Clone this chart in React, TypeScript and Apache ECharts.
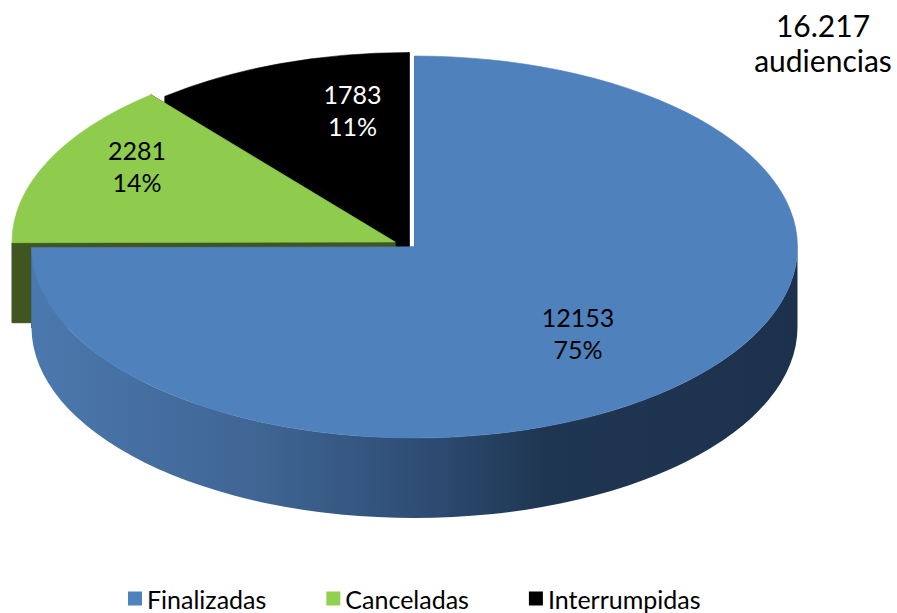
import React, { useEffect, useRef } from "react";
import * as echarts from "echarts";

const categories = ["Finalizadas", "Canceladas", "Interrumpidas"];
const values = [12153, 2281, 1783];
const totalLabel = "16.217\naudiencias";

const topColors = ["#4f81bd", "#8fcc4e", "#000000"];
const legendColors = ["#4f81bd", "#92d050", "#000000"];
const cutColors = ["#3a6090", "#3f5620", "#000000"];
const labelColors = ["#000000", "#000000", "#ffffff"];
const centers = [[414.5, 247], [395, 242], [409, 243.5]];
const labelPos = [[578, 333], [137, 166], [352.5, 110]];
const layers = [3, 2, 1];

const RX = 383;
const RY = 191;
const DEPTH = 80;
const FONT = "Lato, sans-serif";

const total = values.reduce((a, b) => a + b, 0);
const startOf = (i: number) =>
  (values.slice(0, i).reduce((a, b) => a + b, 0) / total) * Math.PI * 2;

const pt = (c: number[], a: number, dy = 0) => [
  c[0] + RX * Math.sin(a),
  c[1] - RY * Math.cos(a) + dy,
];

function renderSlice(i: number) {
  return () => {
    const c = centers[i];
    const a0 = startOf(i);
    const a1 = a0 + (values[i] / total) * Math.PI * 2;
    const p0 = pt(c, a0);
    const p1 = pt(c, a1);
    const large = a1 - a0 > Math.PI ? 1 : 0;
    const children: any[] = [];
    const quad = (a: number) => {
      const e = pt(c, a);
      const d = `M${c[0]} ${c[1]}L${e[0]} ${e[1]}L${e[0]} ${e[1] + DEPTH}L${c[0]} ${c[1] + DEPTH}Z`;
      children.push({
        type: "path",
        shape: { pathData: d },
        style: { fill: cutColors[i], stroke: cutColors[i], lineWidth: 1 },
      });
    };
    quad(a0);
    quad(a1);
    const w0 = Math.max(a0, Math.PI / 2);
    const w1 = Math.min(a1, (Math.PI * 3) / 2);
    if (w1 > w0) {
      const s = pt(c, w0);
      const e = pt(c, w1);
      const d =
        `M${s[0]} ${s[1]}A${RX} ${RY} 0 0 1 ${e[0]} ${e[1]}` +
        `L${e[0]} ${e[1] + DEPTH}A${RX} ${RY} 0 0 0 ${s[0]} ${s[1] + DEPTH}Z`;
      children.push({
        type: "path",
        shape: { pathData: d },
        style: {
          fill: new echarts.graphic.LinearGradient(0, 0, 1, 0, [
            { offset: 0, color: "#4b78ae" },
            { offset: 0.3, color: "#3f6593" },
            { offset: 0.5, color: "#2f4e76" },
            { offset: 0.67, color: "#1f3652" },
            { offset: 1, color: "#1c314c" },
          ]),
        },
      });
    }
    children.push({
      type: "path",
      shape: {
        pathData: `M${c[0]} ${c[1]}L${p0[0]} ${p0[1]}A${RX} ${RY} 0 ${large} 1 ${p1[0]} ${p1[1]}Z`,
      },
      style: { fill: topColors[i], stroke: topColors[i], lineWidth: 0.6 },
    });
    children.push({
      type: "text",
      style: {
        text: `${values[i]}\n${Math.round((values[i] / total) * 100)}%`,
        x: labelPos[i][0],
        y: labelPos[i][1],
        fill: labelColors[i],
        fontFamily: FONT,
        fontSize: 25,
        lineHeight: 32,
        align: "center",
        verticalAlign: "middle",
      },
    });
    return { type: "group", children };
  };
}

export default function App() {
  const ref = useRef<HTMLDivElement>(null);
  useEffect(() => {
    document.body.style.margin = "0";
    const chart = echarts.init(ref.current!, null, { renderer: "svg" });
    chart.setOption({
      animation: false,
      backgroundColor: "#ffffff",
      title: {
        text: totalLabel,
        left: 818,
        top: 2,
        textAlign: "center",
        textStyle: {
          fontFamily: FONT,
          fontSize: 30,
          fontWeight: "normal",
          color: "#000",
          lineHeight: 35,
        },
      },
      legend: {
        data: categories,
        left: 123,
        top: 581,
        itemWidth: 14,
        itemHeight: 14,
        itemGap: 60,
        icon: "rect",
        textStyle: { fontFamily: FONT, fontSize: 25, color: "#000" },
      },
      series: categories.map((name, i) => ({
        type: "custom",
        name,
        coordinateSystem: "none",
        z: layers[i],
        silent: true,
        itemStyle: { color: legendColors[i] },
        data: [values[i]],
        renderItem: renderSlice(i),
      })),
    });
    return () => chart.dispose();
  }, []);
  return <div ref={ref} style={{ width: 897, height: 613 }} />;
}
